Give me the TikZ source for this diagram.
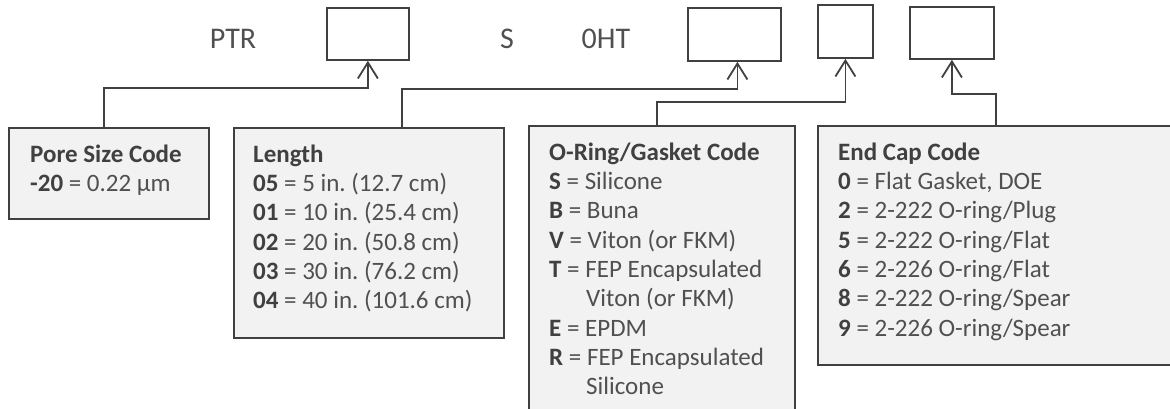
\documentclass[tikz,border=0pt]{standalone}
\usepackage{fontspec}
\setmainfont{Carlito}
\usetikzlibrary{arrows.meta,calc}
\definecolor{ink}{HTML}{404040}
\definecolor{txt}{HTML}{505050}
\definecolor{boxfill}{HTML}{F2F2F2}
\frenchspacing
\tikzset{
  codebox/.style={draw=ink, line width=1.8pt, fill=white, inner sep=0pt, anchor=north west},
  infobox/.style={draw=ink, line width=1.8pt, fill=boxfill, inner sep=0pt, anchor=north west},
  infotext/.style={text=txt, inner sep=0pt, anchor=north west, align=left, font=\fontsize{25}{29.3}\selectfont},
  toptext/.style={text=txt, inner sep=0pt, anchor=base, font=\fontsize{30}{36}\selectfont},
  conn/.style={draw=ink, line width=1.8pt, -{Straight Barb[length=16pt,width=20pt,line width=1.8pt]}}
}
\newcommand{\fs}{\rule{0pt}{20pt}}
\newcommand{\cd}[1]{\textcolor{ink}{\textbf{#1}}}
\begin{document}
\begin{tikzpicture}[x=1pt,y=-1pt]
\useasboundingbox (0,0) rectangle (1170,408);
\clip (0,0) rectangle (1170,408);
% top code boxes
\node[codebox, minimum width=82pt, minimum height=52pt] (b1) at (326,7) {};
\node[codebox, minimum width=93pt, minimum height=53pt] (b2) at (687,7) {};
\node[codebox, minimum width=55pt, minimum height=53pt] (b3) at (817,4) {};
\node[codebox, minimum width=84pt, minimum height=52pt] (b4) at (909,6) {};
\node[toptext] (ptr) at (233,48) {PTR};
\node[toptext] (s) at (507,48) {S};
\node[toptext] (oht) at (606,48) {0HT};
% info boxes
\node[infobox, minimum width=200pt, minimum height=91pt] (pore) at (8,127) {};
\node[infobox, minimum width=270pt, minimum height=210pt] (len) at (233,127) {};
\node[infobox, minimum width=266pt, minimum height=300pt] (oring) at (528,125) {};
\node[infobox, minimum width=370pt, minimum height=239pt] (cap) at (817,125) {};
% texts
\node[infotext] (poret) at (30,142) {\fs\cd{Pore Size Code}\\ \cd{-20} = 0.22 µm};
\node[infotext] (lent) at (253,142) {\fs\cd{Length}\\
\cd{05} = 5 in. (12.7 cm)\\
\cd{01} = 10 in. (25.4 cm)\\
\cd{02} = 20 in. (50.8 cm)\\
\cd{03} = 30 in. (76.2 cm)\\
\cd{04} = 40 in. (101.6 cm)};
\node[infotext] (oringt) at (549,140) {\fs\cd{O-Ring/Gasket Code}\\
\cd{S} = Silicone\\
\cd{B} = Buna\\
\cd{V} = Viton (or FKM)\\
\cd{T} = FEP Encapsulated\\
\hspace*{37pt}Viton (or FKM)\\
\cd{E} = EPDM\\
\cd{R} = FEP Encapsulated\\
\hspace*{37pt}Silicone};
\node[infotext] (capt) at (838,140) {\fs\cd{End Cap Code}\\
\cd{0} = Flat Gasket, DOE\\
\cd{2} = 2-222 O-ring/Plug\\
\cd{5} = 2-222 O-ring/Flat\\
\cd{6} = 2-226 O-ring/Flat\\
\cd{8} = 2-222 O-ring/Spear\\
\cd{9} = 2-226 O-ring/Spear};
% connectors
\draw[conn] ([xshift=96pt]pore.north west) |- ([yshift=-27pt]b1.south) -- (b1.south);
\draw[conn] ([xshift=169pt]len.north west) |- ([yshift=-27pt,xshift=3pt]b2.south) -- ([xshift=3pt]b2.south);
\draw[conn] ([xshift=129pt]oring.north west) |- ([yshift=-43pt]b3.south) -- (b3.south);
\draw[conn] ([xshift=179pt]cap.north west) |- ([yshift=-34pt]b4.south) -- (b4.south);
\end{tikzpicture}
\end{document}
